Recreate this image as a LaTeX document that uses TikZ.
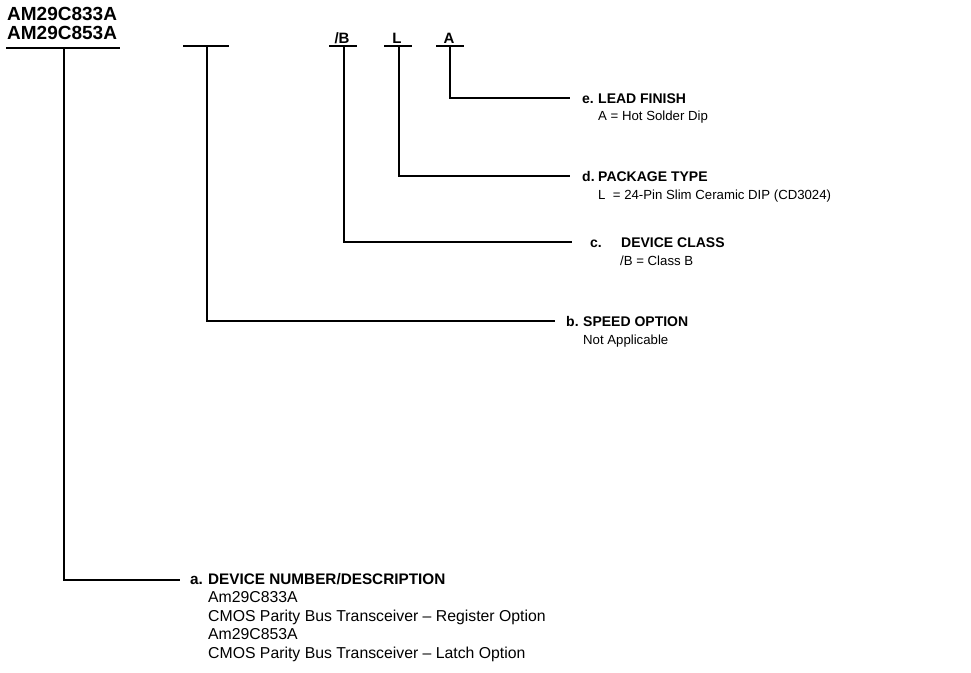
\documentclass[tikz,border=0pt]{standalone}
\usepackage{fontspec}
\setmainfont{Liberation Sans}
\begin{document}
\begin{tikzpicture}[x=1pt,y=-1pt,
  hdr/.style={font=\fontsize{14}{16}\selectfont\bfseries, anchor=base west, inner sep=0pt},
  hdra/.style={font=\fontsize{15.3}{17}\selectfont\bfseries, anchor=base west, inner sep=0pt},
  sub/.style={font=\fontsize{13.2}{15}\selectfont, anchor=base west, inner sep=0pt},
  suba/.style={font=\fontsize{15.8}{17}\selectfont, anchor=base west, inner sep=0pt},
  code/.style={font=\fontsize{15}{17}\selectfont\bfseries, anchor=base, inner sep=0pt},
  ttl/.style={font=\fontsize{19}{21}\selectfont\bfseries, anchor=base west, inner sep=0pt},
  ln/.style={line width=1.7pt}]
\useasboundingbox (0,0) rectangle (971,672);

% title and code fields
\node[ttl] (t1) at (7,20) {AM29C833A};
\node[ttl] (t2) at (7,39) {AM29C853A};
\node[code] (cB) at (342,43) {/B};
\node[code] (cL) at (397,43) {L};
\node[code] (cA) at (449,43) {A};

% underline bars
\coordinate (ua1) at (6,48);   \coordinate (ua2) at (120,48);  \coordinate (ua) at (64,48);
\coordinate (ub1) at (183,46); \coordinate (ub2) at (229,46);  \coordinate (ub) at (207,46);
\coordinate (uc1) at (329,46); \coordinate (uc2) at (357,46);  \coordinate (uc) at (344,46);
\coordinate (ud1) at (384,46); \coordinate (ud2) at (412,46);  \coordinate (ud) at (399,46);
\coordinate (ue1) at (436,46); \coordinate (ue2) at (464,46);  \coordinate (ue) at (450,46);
\draw[ln] (ua1) -- (ua2);
\draw[ln] (ub1) -- (ub2);
\draw[ln] (uc1) -- (uc2);
\draw[ln] (ud1) -- (ud2);
\draw[ln] (ue1) -- (ue2);

% line ends
\coordinate (ea) at (180,580);
\coordinate (eb) at (555,321);
\coordinate (ec) at (572,242);
\coordinate (ed) at (570,176);
\coordinate (ee) at (570,98);

\draw[ln] (ua) |- (ea);
\draw[ln] (ub) |- (eb);
\draw[ln] (uc) |- (ec);
\draw[ln] (ud) |- (ed);
\draw[ln] (ue) |- (ee);

% e
\node[hdr] (le) at (582,103) {e.};
\node[hdr] (he) at (598,103) {LEAD FINISH};
\node[sub] (se) at (598,120) {A = Hot Solder Dip};
% d
\node[hdr] (ld) at (582,181) {d.};
\node[hdr] (hd) at (598,181) {PACKAGE TYPE};
\node[sub] (sd) at (598,199) {L\ \ = 24-Pin Slim Ceramic DIP (CD3024)};
% c
\node[hdr] (lc) at (590,247) {c.};
\node[hdr] (hc) at (621,247) {DEVICE CLASS};
\node[sub] (sc) at (620,265) {/B = Class B};
% b
\node[hdr] (lb) at (566,326) {b.};
\node[hdr] (hb) at (583,326) {SPEED OPTION};
\node[sub] (sb) at (583,344) {Not Applicable};
% a
\node[hdra] (la) at (190,584) {a.};
\node[hdra] (ha) at (208,584) {DEVICE NUMBER/DESCRIPTION};
\node[suba] (sa1) at (208,602) {Am29C833A};
\node[suba] (sa2) at (208,621) {CMOS Parity Bus Transceiver -- Register Option};
\node[suba] (sa3) at (208,639) {Am29C853A};
\node[suba] (sa4) at (208,658) {CMOS Parity Bus Transceiver -- Latch Option};
\end{tikzpicture}
\end{document}
